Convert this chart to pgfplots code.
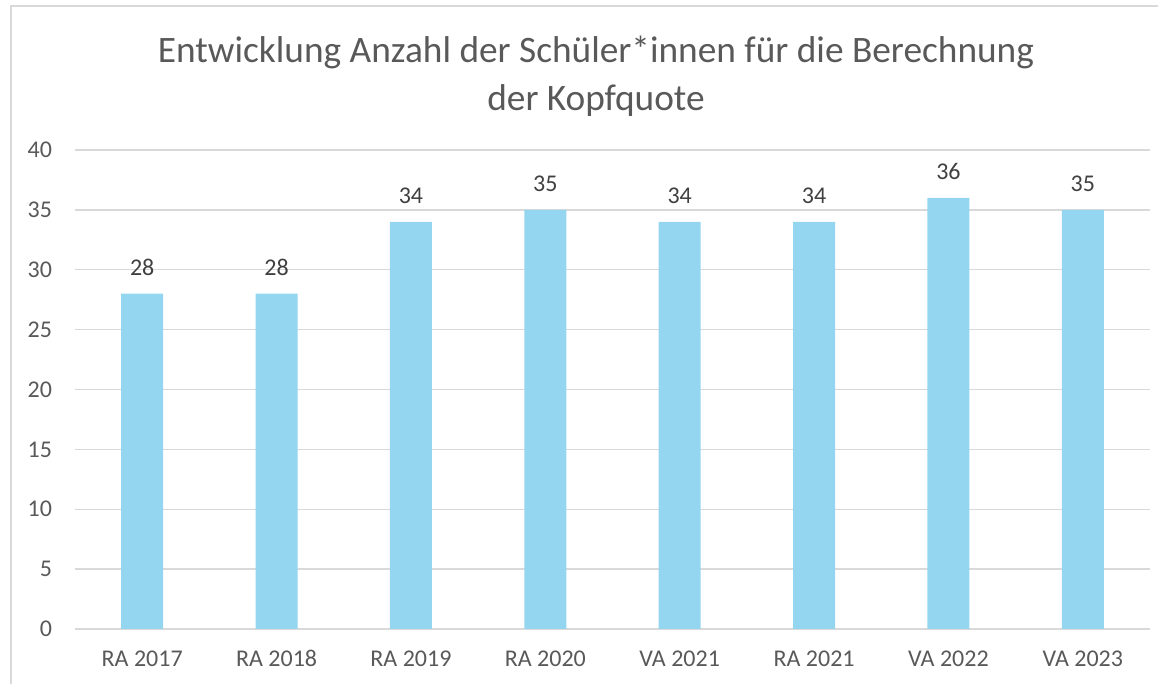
\documentclass[border=0pt]{standalone}
\usepackage{pgfplots}
\pgfplotsset{compat=1.18}
\usepackage{fontspec}
\setmainfont{Carlito}
\definecolor{barc}{HTML}{94D6F0}
\definecolor{txt}{HTML}{595959}
\definecolor{lbl}{HTML}{404040}
\definecolor{gridc}{HTML}{D9D9D9}
\begin{document}
\begin{tikzpicture}
\useasboundingbox (0,0) rectangle (868.5pt,513pt);
\draw[gridc, line width=1.1pt] (8.25pt,0) -- (8.25pt,508.5pt) -- (868.5pt,508.5pt);
\node[anchor=base, text=txt, font=\fontsize{28}{34}\selectfont, inner sep=0] at (447pt,465.75pt) {Entwicklung Anzahl der Schüler*innen für die Berechnung};
\node[anchor=base, text=txt, font=\fontsize{28}{34}\selectfont, inner sep=0] at (447pt,429.75pt) {der Kopfquote};
\begin{axis}[
  at={(56.25pt,41.25pt)}, anchor=south west,
  scale only axis, width=806.25pt, height=359.25pt,
  xmin=-0.5, xmax=7.5, ymin=0, ymax=40,
  ytick={0,5,...,40},
  xtick=data,
  xticklabels={RA 2017,RA 2018,RA 2019,RA 2020,VA 2021,RA 2021,VA 2022,VA 2023},
  axis line style={draw=none},
  major tick length=0pt,
  ymajorgrids, xmajorgrids=false,
  grid style={draw=gridc, line width=1.1pt},
  /pgf/number format/assume math mode=true,
  ticklabel style={font=\fontsize{18}{22}\selectfont, text=txt, inner sep=0pt},
  yticklabel style={anchor=east, xshift=-17pt},
  xticklabel style={anchor=base, yshift=-28.5pt},
  nodes near coords,
  every node near coord/.append style={font=\fontsize{18}{22}\selectfont, text=lbl, inner sep=0pt, anchor=base, yshift=13.5pt},
]
\addplot[ybar, bar width=31.5pt, fill=barc, draw=none] coordinates {
(0,28) (1,28) (2,34) (3,35) (4,34) (5,34) (6,36) (7,35)};
\end{axis}
\end{tikzpicture}
\end{document}
